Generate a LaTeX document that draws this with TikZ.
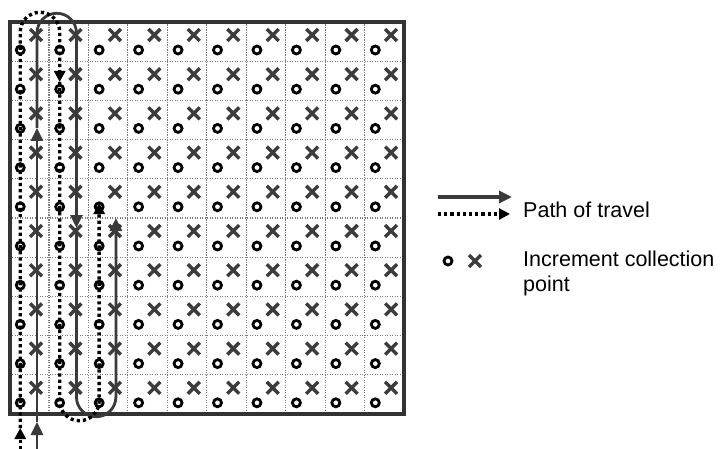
\documentclass[tikz,border=0pt]{standalone}
\usepackage{fontspec}
\setmainfont{Liberation Sans}
\usetikzlibrary{arrows.meta,shapes.misc}
\definecolor{pathgray}{HTML}{3A3A3A}
\definecolor{markgray}{HTML}{3C3C3C}
\definecolor{gridgray}{HTML}{7A7A7A}
\definecolor{framegray}{HTML}{333333}
\tikzset{
 gridline/.style={gridgray, line width=1.2pt, dash pattern=on 1.2pt off 1.3pt},
 fieldframe/.style={framegray, line width=4pt},
 omark/.style={circle, draw=black, line width=2.8pt, minimum size=8pt, inner sep=0pt},
 xmark/.style={cross out, draw=markgray, line width=3.4pt, minimum size=8.5pt, inner sep=0pt},
 solidpath/.style={pathgray, line width=2.8pt},
 dotpath/.style={black, line width=3.4pt, dash pattern=on 3.2pt off 3pt},
 solidtip/.style={-{Triangle[length=13pt,width=12pt]}},
 dottip/.style={-{Triangle[length=11pt,width=11pt]}},
 legtext/.style={anchor=base west, inner sep=0pt, font=\fontsize{21.5pt}{25pt}\selectfont},
}
\begin{document}
\begin{tikzpicture}[x=1pt,y=-1pt]
\useasboundingbox (0,0) rectangle (725,449);
% grid
\foreach \k in {1,...,9} {
  \draw[gridline] ({9.5+\k*39.45},22) -- ({9.5+\k*39.45},414);
  \draw[gridline] (9.5,{22+\k*39.2}) -- (404,{22+\k*39.2});
}
\draw[fieldframe] (9.5,22) rectangle (404,414);
% markers
\foreach \i in {0,...,9} {
  \foreach \j in {0,...,9} {
    \node[omark] (o\i-\j) at ({9.5+\i*39.45+10.75},{22+\j*39.2+28}) {};
    \node[xmark] (x\i-\j) at ({9.5+\i*39.45+26.5},{22+\j*39.2+13}) {};
  }
}
% solid path of travel
\coordinate (s0) at (37,449);
\coordinate (s1) at (37,422);
\coordinate (s2) at (37,128);
\coordinate (s3) at (37,33);
\coordinate (s4) at (76.45,228);
\coordinate (s5) at (76.45,397);
\coordinate (s6) at (115.9,218);
\draw[solidpath, solidtip] (s0) -- (s1);
\draw[solidpath, solidtip] (s1) -- (s2);
\draw[solidpath, solidtip] (s2) -- (s3) arc[start angle=180,end angle=0,radius=19.725pt] -- (s4);
\draw[solidpath, solidtip] (s4) -- (s5) arc[start angle=180,end angle=360,radius=19.725pt] -- (s6);
% dotted path of travel
\coordinate (d0) at (20.25,449);
\coordinate (d1) at (20.25,428);
\coordinate (d2) at (20.25,32);
\coordinate (d3) at (59.7,82);
\coordinate (d4) at (59.7,401);
\coordinate (d5) at (99.15,203);
\draw[dotpath, dottip] (d0) -- (d1);
\draw[dotpath, dottip] (d1) -- (d2) arc[start angle=180,end angle=0,radius=19.725pt] -- (d3);
\draw[dotpath, dottip] (d3) -- (d4) arc[start angle=180,end angle=360,radius=19.725pt] -- (d5);
% legend
\coordinate (la0) at (438,197);
\coordinate (la1) at (512,197);
\coordinate (lb0) at (438,214);
\coordinate (lb1) at (510,214);
\draw[solidpath, line width=3.5pt, solidtip] (la0) -- (la1);
\draw[dotpath, dottip] (lb0) -- (lb1);
\node[legtext] (lpath) at (523,217) {Path of travel};
\node[omark] (lo) at (448,261) {};
\node[xmark] (lx) at (475,261) {};
\node[legtext] (linc) at (523,266.7) {Increment collection};
\node[legtext] (lpoint) at (523,291.7) {point};
\end{tikzpicture}
\end{document}
